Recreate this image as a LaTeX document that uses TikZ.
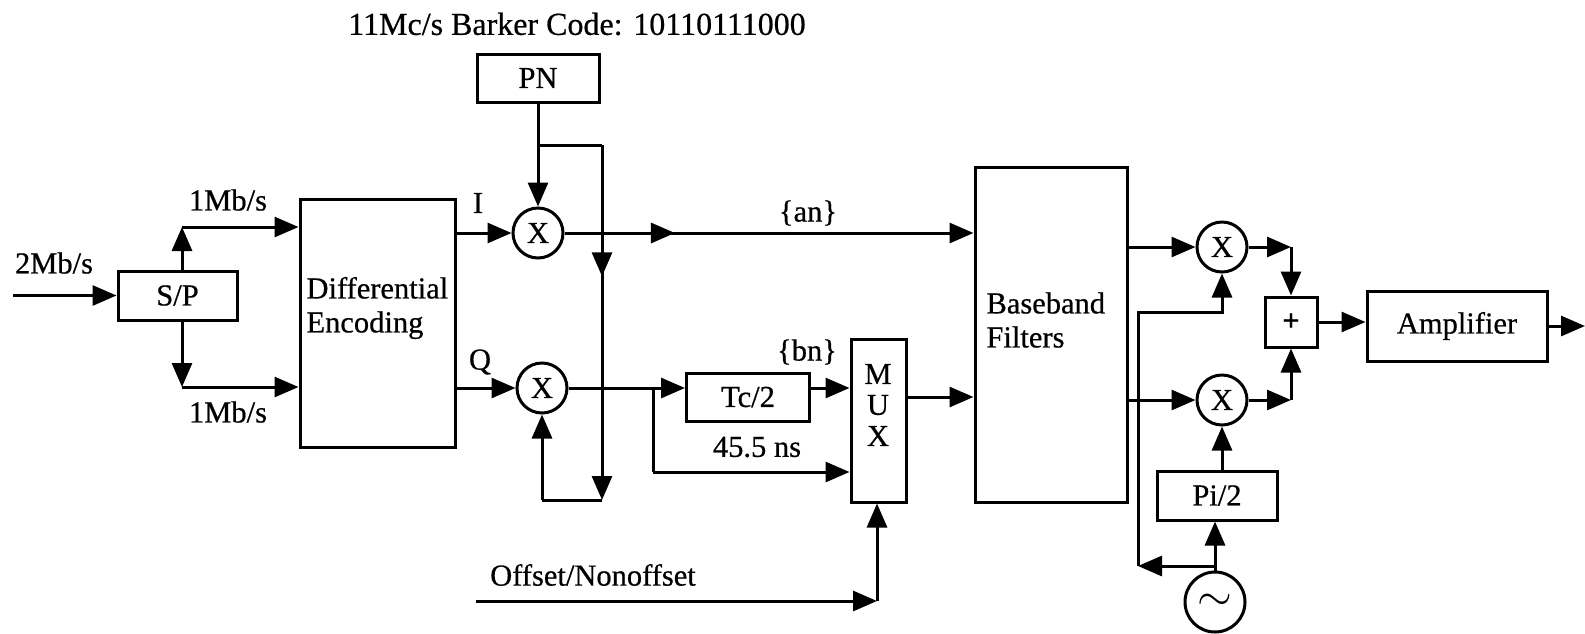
\documentclass[tikz,border=0pt]{standalone}
\usepackage{fontspec}
\setmainfont{Liberation Serif}[FakeBold=0.6]
\usetikzlibrary{arrows.meta,decorations.markings}
\begin{document}
\begin{tikzpicture}[x=1pt,y=-1pt, line width=3pt,
  font=\fontsize{30.5}{34}\selectfont,
  >={Triangle[length=24pt,width=20pt]},
  blk/.style={draw, inner sep=0pt},
  mult/.style={draw, circle, minimum size=50pt, inner sep=0pt},
  lbl/.style={inner sep=0pt},
  midarr/.style={postaction={decorate}, decoration={markings, mark=at position #1 with {\arrow{>}}}}
]
\useasboundingbox (0,0) rectangle (1585,633);
% nodes
\node[lbl, font=\fontsize{32}{36}\selectfont] (title) at (577,24) {11Mc/s Barker Code: 10110111000};
\node[blk, minimum width=119pt, minimum height=49pt] (sp) at (177.5,295.5) {S/P};
\node[blk, minimum width=155pt, minimum height=248pt] (de) at (377.5,323) {};
\node[lbl, align=left, anchor=west] (detxt) at (305,308) {Differential\\Encoding};
\node[blk, minimum width=122pt, minimum height=48pt] (pn) at (538,78) {PN};
\node[mult] (x1) at (538,233) {X};
\node[mult] (x2) at (542,388) {X};
\node[blk, minimum width=123pt, minimum height=48pt] (tc) at (748,397) {Tc/2};
\node[blk, minimum width=55pt, minimum height=163pt] (mux) at (878.5,420.5) {};
\node[lbl] (muxm) at (878,374) {M};
\node[lbl] (muxu) at (878,405) {U};
\node[lbl] (muxx) at (878,436) {X};
\node[blk, minimum width=152pt, minimum height=335pt] (bb) at (1051,334.5) {};
\node[lbl, align=left, anchor=west] (bbtxt) at (985,320) {Baseband\\Filters};
\node[mult] (x3) at (1222,247) {X};
\node[mult] (x4) at (1222,400) {X};
\node[blk, minimum width=52pt, minimum height=50pt] (sum) at (1291,322) {\textbf{+}};
\node[blk, minimum width=180pt, minimum height=70pt] (amp) at (1457,326) {Amplifier};
\node[blk, minimum width=120pt, minimum height=49pt] (pi) at (1217,495.5) {Pi/2};
\node[draw, circle, minimum size=60pt, inner sep=0pt] (osc) at (1215,602) {\scalebox{1.8}{$\sim$}};
% labels
\node[lbl] (l2) at (54,263) {2Mb/s};
\node[lbl] (l1a) at (228,200) {1Mb/s};
\node[lbl] (l1b) at (228,412) {1Mb/s};
\node[lbl] (li) at (478,203) {I};
\node[lbl] (lq) at (480,362) {Q};
\node[lbl] (lan) at (808,213) {\{an\}};
\node[lbl] (lbn) at (807,352) {\{bn\}};
\node[lbl] (lns) at (757,447) {45.5 ns};
\node[lbl] (loff) at (593,575) {Offset/Nonoffset};
% coordinates
\coordinate (in) at (13,295.5);
\coordinate (spu) at (182,227);
\coordinate (spd) at (182,387);
\coordinate (pnj) at (538,145);
\coordinate (pnr) at (602,145);
\coordinate (pnb) at (602,500);
\coordinate (pnl) at (542,500);
\coordinate (br) at (653,388);
\coordinate (brd) at (653,472);
\coordinate (off) at (476,601);
\coordinate (offc) at (877,601);
\coordinate (mo) at (906,397);
\coordinate (s1) at (1291,247);
\coordinate (s2) at (1291,400);
\coordinate (out) at (1585,326);
\coordinate (oj) at (1215,566);
\coordinate (ol) at (1138,566);
\coordinate (ou) at (1138,312);
\coordinate (our) at (1222,312);
% connectors
\draw[->] (in) -- (sp.west);
\draw[->] (sp.north -| spu) -- (spu);
\draw[->] (spu) -- (spu -| de.west);
\draw[->] (sp.south -| spd) -- (spd);
\draw[->] (spd) -- (spd -| de.west);
\draw[->] (de.east |- x1) -- (x1.west);
\draw[->] (de.east |- x2) -- (x2.west);
\draw (pn.south) -- (pnj);
\draw[->] (pnj) -- (x1.north);
\draw (pnj) -- (pnr);
\draw[->, midarr=0.37] (pnr) -- (pnb);
\draw (pnb) -- (pnl);
\draw[->] (pnl) -- (x2.south);
\draw[->, midarr=0.27] (x1.east) -- (x1 -| bb.west);
\draw[->] (x2.east) -- (x2 -| tc.west);
\draw (br) -- (brd);
\draw[->] (brd) -- (brd -| mux.west);
\draw[->] (tc.east |- x2) -- (x2 -| mux.west);
\draw[->] (off) -- (offc);
\draw[->] (offc) -- (offc |- mux.south);
\draw[->] (mo) -- (mo -| bb.west);
\draw[->] (bb.east |- x3) -- (x3.west);
\draw[->] (bb.east |- x4) -- (x4.west);
\draw[->] (x3.east) -- (s1);
\draw[->] (s1) -- (sum.north);
\draw[->] (x4.east) -- (s2);
\draw[->] (s2) -- (sum.south);
\draw[->] (sum.east) -- (sum -| amp.west);
\draw[->] (amp.east) -- (out);
\draw[->] (pi.north -| x4) -- (x4.south);
\draw[->] (osc.north) -- (osc.north |- pi.south);
\draw[->] (oj) -- (ol);
\draw[->] (ol) -- (ou) -- (our) -- (x3.south);
\end{tikzpicture}
\end{document}
